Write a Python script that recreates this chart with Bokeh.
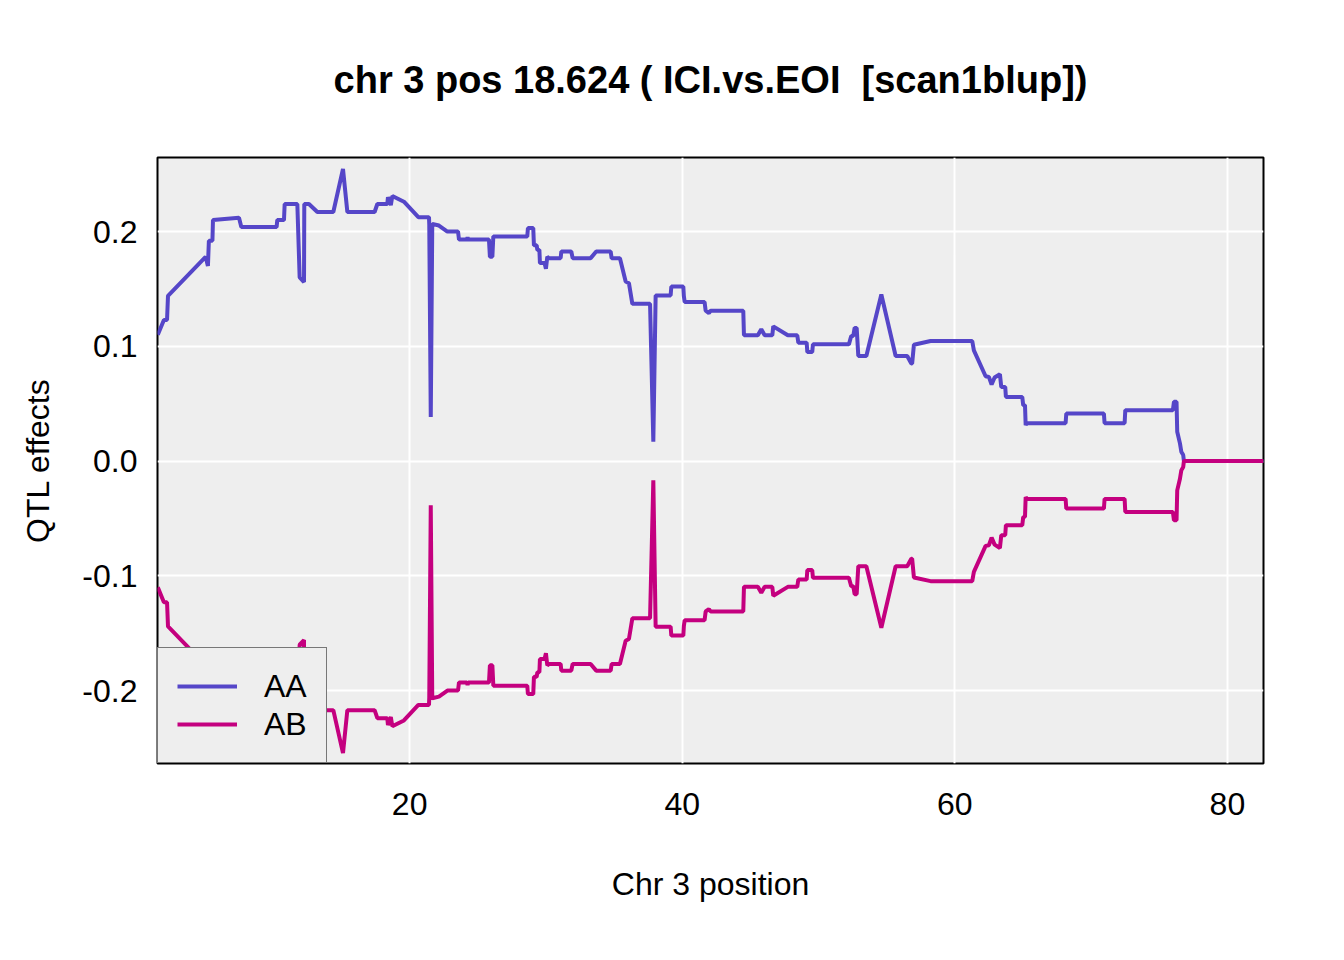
from bokeh.plotting import figure
from bokeh.models import Range1d, FixedTicker, PrintfTickFormatter, Legend, LegendItem, ColumnDataSource
from bokeh.embed import file_html
from bokeh.resources import INLINE

# ---- data ----
pos = [1.52, 1.97, 2.20, 2.27, 5.03, 5.20, 5.27, 5.53, 5.57, 7.48, 7.65, 10.24, 10.29, 10.78, 10.83,
       11.76, 11.93, 12.25, 12.27, 12.61, 13.23, 14.40, 15.11, 15.43, 17.43, 17.63, 18.36, 18.41, 18.62,
       18.73, 19.58, 20.64, 21.42, 21.44, 21.55, 21.66, 22.15, 22.77, 23.55, 23.62, 24.20, 24.25, 24.30,
       25.82, 25.89, 26.07, 26.14, 27.66, 28.63, 28.68, 29.07, 29.12, 29.32, 29.37, 29.52, 29.56, 29.90,
       30.00, 30.10, 30.22, 31.08, 31.13, 31.86, 31.96, 33.28, 33.69, 34.75, 34.82, 35.43, 35.85, 36.09,
       36.34, 37.64, 37.88, 38.05, 39.15, 39.20, 40.08, 40.12, 40.18, 41.64, 41.72, 41.96, 42.08, 44.48,
       44.53, 45.55, 45.80, 46.05, 46.61, 46.68, 47.75, 48.44, 48.52, 49.13, 49.18, 49.54, 49.59, 52.23,
       52.40, 52.55, 52.65, 52.80, 52.92, 53.51, 54.61, 55.66, 56.51, 56.81, 56.87, 57.00, 58.22, 61.28,
       61.40, 62.26, 62.50, 62.70, 62.92, 63.31, 63.41, 63.70, 63.75, 64.95, 65.02, 65.15, 65.20, 65.27,
       68.13, 68.18, 70.94, 70.99, 72.46, 72.51, 76.00, 76.08, 76.27, 76.32, 76.52, 76.62, 76.76, 76.81,
       82.65]

AA = [0.110, 0.123, 0.123, 0.144, 0.178, 0.170, 0.192, 0.192, 0.210, 0.212, 0.204, 0.204, 0.210, 0.210, 0.224,
      0.224, 0.160, 0.156, 0.224, 0.224, 0.217, 0.217, 0.2545, 0.217, 0.217, 0.224, 0.224, 0.230, 0.223,
      0.231, 0.226, 0.2125, 0.2125, 0.206, 0.0385, 0.2067, 0.2052, 0.200, 0.200, 0.193, 0.193, 0.195, 0.193,
      0.193, 0.178, 0.178, 0.1957, 0.1957, 0.1957, 0.203, 0.203, 0.188, 0.188, 0.184, 0.184, 0.1725, 0.1725,
      0.1675, 0.178, 0.1768, 0.1768, 0.1826, 0.1826, 0.1768, 0.1768, 0.1826, 0.1826, 0.1768, 0.1768, 0.1565, 0.155,
      0.137, 0.137, 0.0168, 0.1443, 0.1443, 0.152, 0.152, 0.1438, 0.1386, 0.1386, 0.131, 0.129, 0.131, 0.131,
      0.1096, 0.1096, 0.1148, 0.1096, 0.1096, 0.1174, 0.1096, 0.1096, 0.1032, 0.1032, 0.095, 0.095, 0.1017, 0.1017,
      0.109, 0.109, 0.116, 0.116, 0.0916, 0.0916, 0.1452, 0.0916, 0.0916, 0.085, 0.085, 0.1014, 0.1046, 0.1046,
      0.0965, 0.0739, 0.0733, 0.0667, 0.0728, 0.0757, 0.0646, 0.0646, 0.0559, 0.0559, 0.0487, 0.0487, 0.0313, 0.033,
      0.033, 0.0414, 0.0414, 0.033, 0.033, 0.0443, 0.0443, 0.0516, 0.0516, 0.0255, 0.0154, 0.0081, 0.0052, 0.0,
      0.0]

AB = [-0.110, -0.123, -0.123, -0.144, -0.178, -0.170, -0.192, -0.192, -0.210, -0.212, -0.204, -0.204, -0.210, -0.210, -0.224,
      -0.224, -0.160, -0.156, -0.224, -0.224, -0.217, -0.217, -0.2545, -0.217, -0.217, -0.224, -0.224, -0.230, -0.223,
      -0.231, -0.226, -0.2125, -0.2125, -0.206, -0.0385, -0.2067, -0.2052, -0.200, -0.200, -0.193, -0.193, -0.195, -0.193,
      -0.193, -0.178, -0.178, -0.1957, -0.1957, -0.1957, -0.203, -0.203, -0.188, -0.188, -0.184, -0.184, -0.1725, -0.1725,
      -0.1675, -0.178, -0.1768, -0.1768, -0.1826, -0.1826, -0.1768, -0.1768, -0.1826, -0.1826, -0.1768, -0.1768, -0.1565, -0.155,
      -0.137, -0.137, -0.0168, -0.1443, -0.1443, -0.152, -0.152, -0.1438, -0.1386, -0.1386, -0.131, -0.129, -0.131, -0.131,
      -0.1096, -0.1096, -0.1148, -0.1096, -0.1096, -0.1174, -0.1096, -0.1096, -0.1032, -0.1032, -0.095, -0.095, -0.1017, -0.1017,
      -0.109, -0.109, -0.116, -0.116, -0.0916, -0.0916, -0.1452, -0.0916, -0.0916, -0.085, -0.085, -0.1014, -0.1046, -0.1046,
      -0.0965, -0.0739, -0.0733, -0.0667, -0.0728, -0.0757, -0.0646, -0.0646, -0.0559, -0.0559, -0.0487, -0.0487, -0.0313, -0.033,
      -0.033, -0.0414, -0.0414, -0.033, -0.033, -0.0443, -0.0443, -0.0516, -0.0516, -0.0255, -0.0154, -0.0081, -0.0052, 0.0,
      0.0]

x_ticks = [20, 40, 60, 80]
y_ticks = [-0.2, -0.1, 0.0, 0.1, 0.2]
series_names = ["AA", "AB"]
series_colors = ["#5546C8", "#C4007F"]
title_text = "chr 3 pos 18.624 ( ICI.vs.EOI \u00a0[scan1blup])"
x_label = "Chr 3 position"
y_label = "QTL effects"

FONT = "Liberation Sans"

p = figure(width=1328, height=944, output_backend="svg", toolbar_location=None,
           x_range=Range1d(1.5, 82.65), y_range=Range1d(-0.2635, 0.2645),
           min_border_left=157, min_border_right=65, min_border_top=157, min_border_bottom=181)

p.background_fill_color = "#EEEEEE"
p.border_fill_color = "white"
p.outline_line_color = "black"
p.outline_line_width = 2

# title
p.title.text = title_text
p.title.text_font = FONT
p.title.text_font_size = "38px"
p.title.text_font_style = "bold"
p.title.text_color = "black"
p.title.align = "center"
p.title.standoff = 113

# axes
for ax in (p.xaxis[0], p.yaxis[0]):
    ax.axis_line_color = None
    ax.major_tick_line_color = None
    ax.minor_tick_line_color = None
    ax.major_tick_out = 0
    ax.major_tick_in = 0
    ax.major_label_text_font = FONT
    ax.major_label_text_font_size = "32px"
    ax.major_label_text_color = "black"
    ax.axis_label_text_font = FONT
    ax.axis_label_text_font_size = "32px"
    ax.axis_label_text_font_style = "normal"
    ax.axis_label_text_color = "black"

p.xaxis.ticker = FixedTicker(ticks=x_ticks)
p.yaxis.ticker = FixedTicker(ticks=y_ticks)
p.yaxis.formatter = PrintfTickFormatter(format="%.1f")
p.xaxis.axis_label = x_label
p.yaxis.axis_label = y_label
p.xaxis.major_label_standoff = 29
p.xaxis.axis_label_standoff = 48
p.yaxis.major_label_standoff = 20
p.yaxis.axis_label_standoff = 23

p.xgrid.grid_line_color = "white"
p.ygrid.grid_line_color = "white"
p.xgrid.grid_line_width = 2
p.ygrid.grid_line_width = 2

src = ColumnDataSource(dict(pos=pos, AA=AA, AB=AB))
r_aa = p.line("pos", "AA", source=src, line_color=series_colors[0], line_width=4)
r_ab = p.line("pos", "AB", source=src, line_color=series_colors[1], line_width=4)

legend = Legend(items=[LegendItem(label=series_names[0], renderers=[r_aa]),
                       LegendItem(label=series_names[1], renderers=[r_ab])],
                location="bottom_left", margin=0, padding=19, spacing=0,
                glyph_width=60, glyph_height=38, label_height=38, label_standoff=27,
                label_text_font=FONT, label_text_font_size="32px", label_text_color="black",
                background_fill_color="#EEEEEE", background_fill_alpha=1.0,
                border_line_color="black", border_line_width=1.5)
p.add_layout(legend, "center")

open("out.html", "w").write(file_html(p, INLINE))
